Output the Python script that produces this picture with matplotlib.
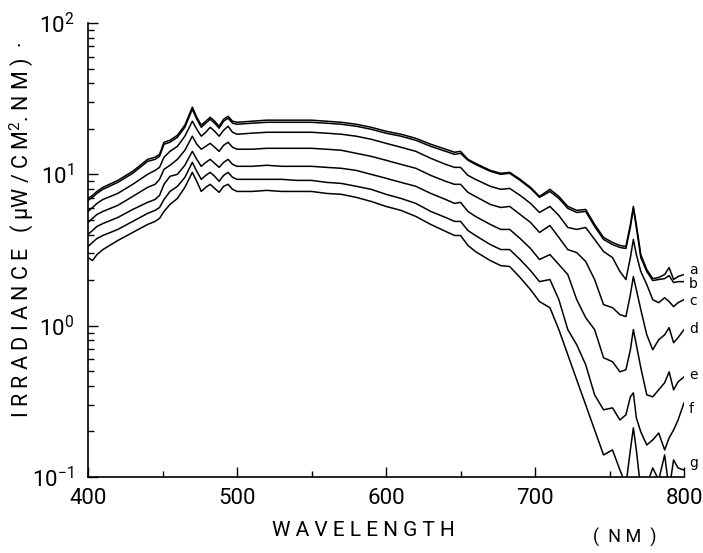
import numpy as np
import matplotlib.pyplot as plt

plt.rcParams['font.family'] = ['Roboto', 'DejaVu Sans']
plt.rcParams['mathtext.fontset'] = 'custom'
plt.rcParams['mathtext.rm'] = 'Roboto'

# wavelength grid (nm) the curves were read at
wavelength = [400, 403, 406, 410, 420, 430, 440, 445, 448, 451, 455, 460, 465, 470,
              473, 476, 479, 482, 485, 488, 491, 494, 497, 500,
              510, 520, 530, 540, 550, 560, 570, 580, 590, 600, 610, 620, 630, 640,
              646, 650, 655, 660, 670, 677, 683, 690, 697, 703,
              710, 716, 722, 728, 734, 740, 746, 752, 757, 761, 764, 766, 768, 771,
              775, 779, 783, 787, 790, 793, 796, 800]

# log10 of irradiance, curves a (top) .. g (bottom)
log_a = [0.841, 0.861, 0.887, 0.914, 0.960, 1.020, 1.099, 1.113, 1.132, 1.212, 1.225, 1.258, 1.325, 1.444,
         1.377, 1.325, 1.351, 1.377, 1.351, 1.318, 1.364, 1.384, 1.351, 1.344,
         1.351, 1.358, 1.358, 1.358, 1.358, 1.351, 1.344, 1.331, 1.311, 1.285, 1.265, 1.238, 1.199, 1.166,
         1.146, 1.152, 1.099, 1.073, 1.026, 1.007, 1.013, 0.967, 0.914, 0.854,
         0.901, 0.854, 0.788, 0.762, 0.768, 0.669, 0.583, 0.550, 0.530, 0.523, 0.669, 0.788, 0.669, 0.470,
         0.371, 0.311, 0.318, 0.338, 0.384, 0.305, 0.325, 0.338]
log_b = [0.828, 0.848, 0.874, 0.901, 0.947, 1.007, 1.086, 1.099, 1.119, 1.199, 1.212, 1.245, 1.311, 1.430,
         1.364, 1.311, 1.338, 1.364, 1.338, 1.305, 1.351, 1.371, 1.338, 1.331,
         1.338, 1.344, 1.344, 1.344, 1.344, 1.338, 1.331, 1.318, 1.298, 1.272, 1.252, 1.225, 1.185, 1.152,
         1.132, 1.139, 1.093, 1.066, 1.020, 1.000, 1.007, 0.960, 0.907, 0.848,
         0.887, 0.841, 0.775, 0.748, 0.755, 0.656, 0.570, 0.536, 0.517, 0.510, 0.649, 0.775, 0.649, 0.450,
         0.358, 0.298, 0.305, 0.311, 0.331, 0.285, 0.291, 0.291]
log_c = [0.755, 0.781, 0.808, 0.834, 0.874, 0.934, 1.000, 1.026, 1.046, 1.113, 1.152, 1.185, 1.252, 1.351,
         1.298, 1.252, 1.278, 1.311, 1.285, 1.252, 1.291, 1.318, 1.278, 1.265,
         1.272, 1.278, 1.278, 1.278, 1.278, 1.272, 1.265, 1.252, 1.232, 1.205, 1.179, 1.152, 1.106, 1.066,
         1.046, 1.046, 0.993, 0.967, 0.921, 0.901, 0.907, 0.861, 0.808, 0.748,
         0.788, 0.728, 0.649, 0.636, 0.649, 0.570, 0.490, 0.450, 0.358, 0.305, 0.450, 0.570, 0.470, 0.358,
         0.272, 0.172, 0.152, 0.185, 0.159, 0.126, 0.152, 0.172]
log_d = [0.682, 0.709, 0.735, 0.755, 0.795, 0.854, 0.914, 0.934, 0.967, 1.033, 1.060, 1.099, 1.159, 1.252,
         1.199, 1.166, 1.185, 1.205, 1.179, 1.152, 1.192, 1.212, 1.179, 1.166,
         1.166, 1.172, 1.172, 1.172, 1.172, 1.166, 1.159, 1.139, 1.119, 1.093, 1.066, 1.040, 0.993, 0.954,
         0.934, 0.934, 0.881, 0.854, 0.801, 0.781, 0.788, 0.735, 0.682, 0.616,
         0.662, 0.583, 0.503, 0.483, 0.424, 0.305, 0.139, 0.119, 0.073, 0.060, 0.205, 0.325, 0.238, 0.106,
         -0.060, -0.159, -0.093, -0.060, -0.013, -0.113, -0.079, -0.026]
log_e = [0.603, 0.629, 0.656, 0.675, 0.715, 0.768, 0.815, 0.834, 0.861, 0.934, 0.987, 1.000, 1.060, 1.152,
         1.099, 1.053, 1.079, 1.099, 1.073, 1.046, 1.079, 1.099, 1.066, 1.053,
         1.053, 1.060, 1.053, 1.053, 1.053, 1.046, 1.040, 1.026, 1.000, 0.974, 0.947, 0.921, 0.874, 0.834,
         0.808, 0.815, 0.755, 0.722, 0.669, 0.636, 0.636, 0.576, 0.510, 0.437,
         0.470, 0.404, 0.338, 0.172, 0.053, -0.026, -0.212, -0.238, -0.305, -0.291, -0.159, -0.026, -0.126, -0.278,
         -0.457, -0.470, -0.424, -0.377, -0.305, -0.424, -0.371, -0.338]
log_f = [0.523, 0.550, 0.576, 0.596, 0.636, 0.689, 0.742, 0.762, 0.781, 0.834, 0.887, 0.921, 0.980, 1.079,
         1.020, 0.967, 0.993, 1.013, 0.987, 0.954, 0.993, 1.013, 0.980, 0.967,
         0.967, 0.967, 0.967, 0.960, 0.960, 0.947, 0.940, 0.921, 0.901, 0.868, 0.841, 0.808, 0.755, 0.715,
         0.689, 0.689, 0.629, 0.596, 0.536, 0.503, 0.503, 0.437, 0.364, 0.291,
         0.305, 0.172, -0.026, -0.126, -0.258, -0.457, -0.556, -0.543, -0.623, -0.589, -0.470, -0.444, -0.609, -0.702,
         -0.788, -0.755, -0.709, -0.821, -0.742, -0.689, -0.623, -0.510]
log_g = [0.450, 0.430, 0.470, 0.503, 0.563, 0.616, 0.669, 0.689, 0.709, 0.755, 0.801, 0.841, 0.914, 1.013,
         0.954, 0.887, 0.914, 0.934, 0.907, 0.881, 0.921, 0.934, 0.901, 0.887,
         0.887, 0.894, 0.887, 0.887, 0.887, 0.874, 0.868, 0.848, 0.821, 0.788, 0.762, 0.722, 0.669, 0.623,
         0.596, 0.596, 0.530, 0.490, 0.430, 0.397, 0.391, 0.318, 0.238, 0.159,
         0.119, -0.026, -0.192, -0.358, -0.523, -0.689, -0.854, -0.821, -0.954, -1.053, -0.821, -0.675, -0.821, -1.086,
         -1.053, -0.940, -1.020, -0.854, -1.086, -0.887, -0.940, -0.954]

curves = [log_a, log_b, log_c, log_d, log_e, log_f, log_g]
curve_names = ['a', 'b', 'c', 'd', 'e', 'f', 'g']
# where the letters sit at the right edge (axes fraction)
name_y = [0.456, 0.425, 0.388, 0.326, 0.225, 0.150, 0.031]

fig = plt.figure(figsize=(7.03, 5.53), dpi=100)
ax = fig.add_axes([0.1252, 0.1374, 0.8478, 0.8210])

for lg in curves:
    ax.plot(wavelength, 10 ** np.array(lg), 'k-', lw=1.1)

ax.set_yscale('log')
ax.set_xlim(400, 800)
ax.set_ylim(0.1, 100)
ax.spines['top'].set_visible(False)
ax.spines['right'].set_visible(False)
ax.spines['left'].set_linewidth(1.2)
ax.spines['bottom'].set_linewidth(1.2)

ax.set_xticks([400, 500, 600, 700, 800])
ax.set_xticks([450, 550, 650, 750], minor=True)
ax.tick_params(which='major', direction='in', length=7, width=1, labelsize=16, pad=8)
ax.tick_params(which='minor', direction='in', length=4, width=1)
ax.tick_params(axis='y', which='major', pad=10)

for name, yy in zip(curve_names, name_y):
    ax.text(1.008, yy, name, transform=ax.transAxes, fontsize=10,
            family='DejaVu Sans', va='center', ha='left')

fig.text(0.517, 0.041, 'W A V E L E N G T H', fontsize=15, ha='center', va='center')
fig.text(0.889, 0.029, '(  N M  )', fontsize=13, ha='center', va='center')
fig.text(0.030, 0.585, 'I R R A D I A N C E   ( \u03bcW / C M$^2$. N M )  \u00b7',
         fontsize=15.5, rotation=90, ha='center', va='center')

fig.savefig('out.png', dpi=100)
